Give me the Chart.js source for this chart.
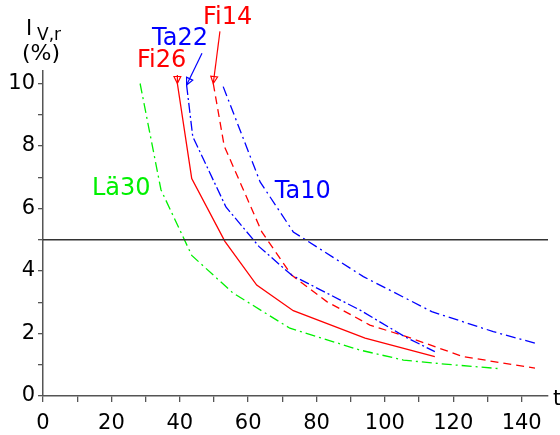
<!DOCTYPE html>
<html>
<head>
<meta charset="utf-8">
<script src="https://cdn.jsdelivr.net/npm/chart.js@4.4.1/dist/chart.umd.min.js"></script>
<style>
  html, body { margin: 0; padding: 0; background: #fff; }
  #wrap { width: 560px; height: 435px; }
  canvas { display: block; }
</style>
</head>
<body>
<div id="wrap"><canvas id="c" width="560" height="435"></canvas></div>
<script>
// values (t on x, I_V,r in % on y)
const xLabelStep = 20;
const yLabelStep = 2;

const fi26X = [39.3, 43.5, 53.2, 62.5, 73.2, 94.2, 114.6];
const fi26Y = [10.0, 6.96, 4.95, 3.55, 2.73, 1.85, 1.26];

const ta22X = [42.0, 43.8, 53.5, 63.2, 72.7, 92.7, 105.8, 114.6];
const ta22Y = [9.95, 8.3, 6.05, 4.78, 3.87, 2.75, 1.9, 1.42];

const fi14X = [49.8, 53.0, 64.0, 72.7, 83.0, 95.6, 106.3, 122.9, 143.9];
const fi14Y = [10.0, 8.0, 5.25, 3.87, 3.02, 2.27, 1.9, 1.26, 0.89];

const ta10X = [52.7, 63.5, 73.2, 93.7, 113.7, 131.7, 143.9];
const ta10Y = [9.9, 6.85, 5.25, 3.82, 2.7, 2.06, 1.69];

const la30X = [28.4, 34.5, 43.5, 55.5, 72.2, 92.7, 105.4, 117.5, 134.1];
const la30Y = [10.0, 6.6, 4.5, 3.3, 2.17, 1.47, 1.15, 1.02, 0.87];

const limitY = 5;

const X_MAX = 147.7;
const Y_MAX = 10.4;

const RED = '#ff0000', BLUE = '#0000ff', GREEN = '#00f000';
const FONT = '"DejaVu Sans", sans-serif';

function pts(xs, ys) {
    return xs.map((x, i) => ({ x: x, y: ys[i] }));
}

function series(data, color, dash, width) {
    return {
        data: data,
        borderColor: color,
        borderWidth: width || 1.3,
        borderDash: dash,
        pointRadius: 0,
        fill: false,
        tension: 0
    };
}

// label positions in data units, arrows go from (fx,fy) to the first point of a curve
const notes = [
    { text: 'Fi14', color: RED, x: 46.8, y: 11.9 },
    { text: 'Ta22', color: BLUE, x: 31.9, y: 11.22 },
    { text: 'Fi26', color: RED, x: 27.5, y: 10.52 },
    { text: 'Ta10', color: BLUE, x: 67.8, y: 6.33 },
    { text: 'Lä30', color: GREEN, x: 14.3, y: 6.43 }
];
const arrows = [
    { color: RED, fx: 51.75, fy: 11.67, tx: fi14X[0], ty: fi14Y[0] },
    { color: BLUE, fx: 46.5, fy: 10.97, tx: ta22X[0], ty: ta22Y[0] },
    { color: RED, fx: 39.3, fy: 10.27, tx: fi26X[0], ty: fi26Y[0] }
];

const decor = {
    id: 'decor',
    afterDraw(chart) {
        const ctx = chart.ctx;
        const xs = chart.scales.x, ys = chart.scales.y;
        ctx.save();
        ctx.textBaseline = 'alphabetic';
        ctx.textAlign = 'left';

        notes.forEach(n => {
            ctx.font = '24px ' + FONT;
            ctx.fillStyle = n.color;
            ctx.fillText(n.text, xs.getPixelForValue(n.x), ys.getPixelForValue(n.y));
        });

        arrows.forEach(a => {
            const x0 = xs.getPixelForValue(a.fx), y0 = ys.getPixelForValue(a.fy);
            const x1 = xs.getPixelForValue(a.tx), y1 = ys.getPixelForValue(a.ty);
            const ang = Math.atan2(y1 - y0, x1 - x0);
            const len = 7, half = 3.4;
            ctx.strokeStyle = a.color;
            ctx.lineWidth = 1.2;
            ctx.beginPath();
            ctx.moveTo(x0, y0);
            ctx.lineTo(x1, y1);
            ctx.stroke();
            const bx = x1 - len * Math.cos(ang), by = y1 - len * Math.sin(ang);
            ctx.beginPath();
            ctx.moveTo(x1, y1);
            ctx.lineTo(bx + half * Math.sin(ang), by - half * Math.cos(ang));
            ctx.lineTo(bx - half * Math.sin(ang), by + half * Math.cos(ang));
            ctx.closePath();
            ctx.stroke();
        });

        // axis titles
        ctx.fillStyle = '#000';
        ctx.font = '21px ' + FONT;
        ctx.fillText('I', 26, 35);
        ctx.font = '17px ' + FONT;
        ctx.fillText('V,r', 37, 40);
        ctx.font = '22px ' + FONT;
        ctx.fillText('(%)', 22, 60);
        ctx.font = '21px ' + FONT;
        ctx.fillText('t', 553, 405);
        ctx.restore();
    }
};

new Chart(document.getElementById('c'), {
    type: 'line',
    data: {
        datasets: [
            series(pts([0, X_MAX], [limitY, limitY]), '#333', [], 1.5),
            series(pts(la30X, la30Y), GREEN, [10, 4, 2, 4]),
            series(pts(fi26X, fi26Y), RED, []),
            series(pts(ta22X, ta22Y), BLUE, [10, 3, 2, 3]),
            series(pts(fi14X, fi14Y), RED, [8, 5]),
            series(pts(ta10X, ta10Y), BLUE, [10, 4, 2, 4])
        ]
    },
    options: {
        responsive: false,
        animation: false,
        layout: { padding: { left: 0, right: 12, top: 71, bottom: 0 } },
        plugins: { legend: { display: false }, tooltip: { enabled: false } },
        scales: {
            x: {
                type: 'linear',
                min: 0,
                max: X_MAX,
                afterFit: s => { s.height = 39; },
                border: { color: '#555', width: 1.5 },
                grid: { drawOnChartArea: false, tickLength: 6, tickColor: '#555', lineWidth: 1.3 },
                ticks: {
                    stepSize: 10,
                    includeBounds: false,
                    autoSkip: false,
                    maxRotation: 0,
                    padding: 9,
                    color: '#000',
                    font: { family: FONT, size: 21 },
                    callback: v => (v % xLabelStep === 0 ? v : '')
                }
            },
            y: {
                min: 0,
                max: Y_MAX,
                afterFit: s => { s.width = 43; },
                border: { color: '#555', width: 1.5 },
                grid: { drawOnChartArea: false, tickLength: 5, tickColor: '#555', lineWidth: 1.3 },
                ticks: {
                    stepSize: 1,
                    includeBounds: false,
                    autoSkip: false,
                    padding: 3,
                    color: '#000',
                    font: { family: FONT, size: 21 },
                    callback: v => (v % yLabelStep === 0 ? v : '')
                }
            }
        }
    },
    plugins: [decor]
});
</script>
</body>
</html>
